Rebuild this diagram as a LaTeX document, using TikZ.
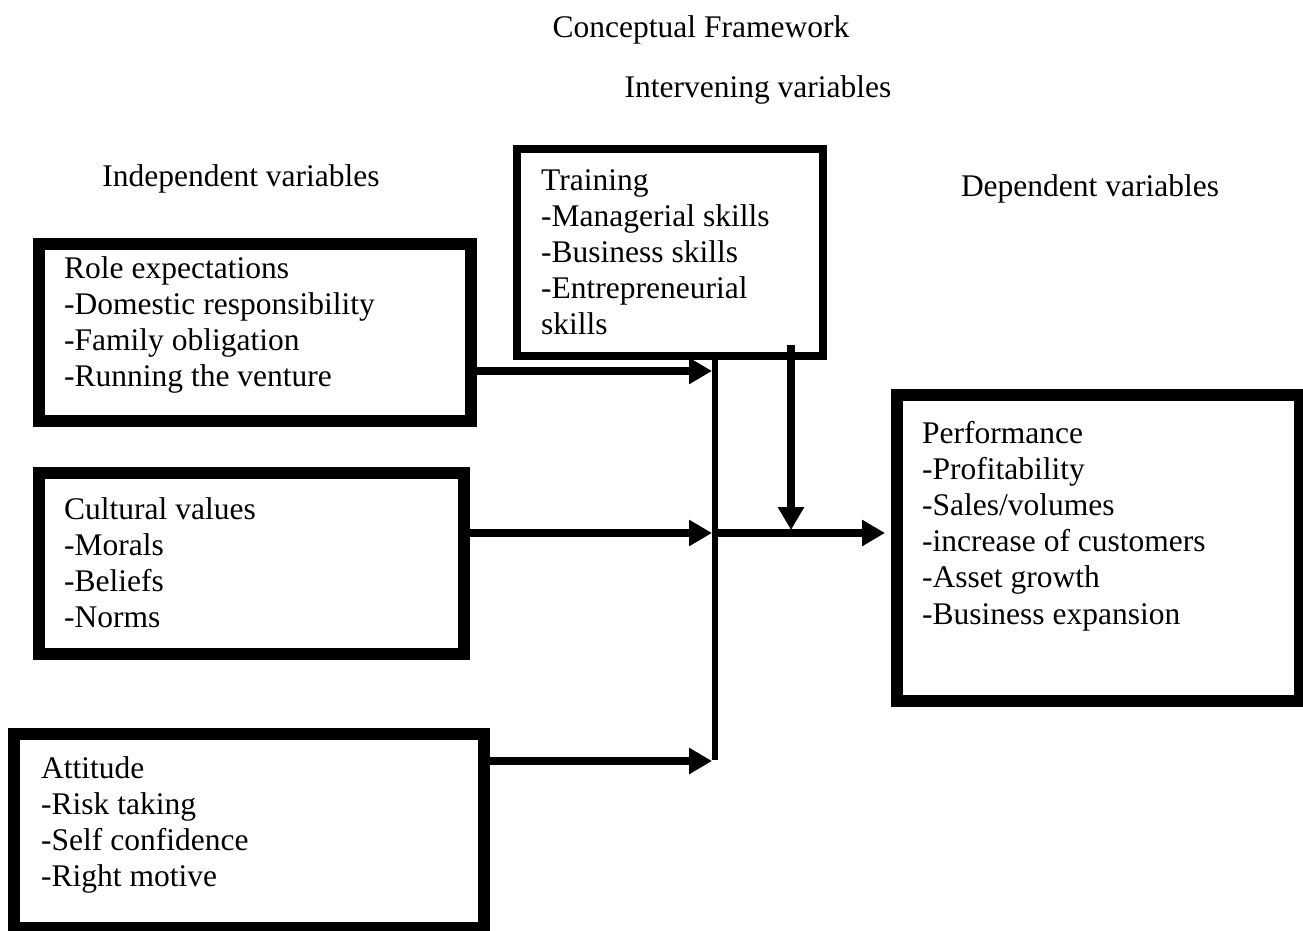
\documentclass[tikz,border=0pt]{standalone}
\usepackage{fontspec}
\setmainfont{Liberation Serif}
\usetikzlibrary{arrows.meta}

\newcommand{\varlines}[1]{\begin{tabular}[t]{@{}l@{}}#1\end{tabular}}

\begin{document}
\begin{tikzpicture}[x=1pt,y=-1pt,
		varbox/.style={draw,line width=12pt,inner sep=0pt},
		trainbox/.style={draw,line width=8pt,inner sep=0pt},
		vtext/.style={anchor=base west,inner sep=0pt,font=\fontsize{31.5}{36.2}\selectfont},
		head/.style={anchor=base,inner sep=0pt,font=\fontsize{31.5}{36.2}\selectfont},
		flow/.style={line width=8pt,-{Triangle[length=23pt,width=25pt]}}]
				\useasboundingbox (0,0) rectangle (1303,931);
				% headings
				\node[head] (title) at (701,38) {Conceptual Framework};
				\node[head] (intervening) at (758,98) {Intervening variables};
				\node[head] (independent) at (241,186) {Independent variables};
				\node[head] (dependent) at (1090,196) {Dependent variables};
				% boxes
				\node[varbox,minimum width=432pt,minimum height=177pt] (role) at (255,332.5) {};
				\node[varbox,minimum width=425pt,minimum height=181pt] (culture) at (251.5,563.5) {};
				\node[varbox,minimum width=470pt,minimum height=194pt] (attitude) at (249,831) {};
				\node[trainbox,minimum width=306pt,minimum height=207pt] (training) at (670,252.5) {};
				\node[varbox,minimum width=403pt,minimum height=306pt] (perf) at (1098.5,548) {};
				\node[vtext] (roletext) at (64,278) {\varlines{Role expectations\\-Domestic responsibility\\-Family obligation\\-Running the venture}};
				\node[vtext] (culturetext) at (64,519) {\varlines{Cultural values\\-Morals\\-Beliefs\\-Norms}};
				\node[vtext] (attitudetext) at (41,778) {\varlines{Attitude\\-Risk taking\\-Self confidence\\-Right motive}};
				\node[vtext] (trainingtext) at (541,190) {\varlines{Training\\-Managerial skills\\-Business skills\\-Entrepreneurial\\skills}};
				\node[vtext] (perftext) at (922,443) {\varlines{Performance\\-Profitability\\-Sales/volumes\\-increase of customers\\-Asset growth\\-Business expansion}};
				% connectors
				\coordinate (bartop) at (715,356);
				\coordinate (barbot) at (715,760);
				\coordinate (j1) at (712,371);
				\coordinate (j2) at (712,533);
				\coordinate (j3) at (712,761);
				\coordinate (hub) at (715,533);
				\coordinate (drop) at (791,345);
				\draw[line width=6pt] (bartop) -- (barbot);
				\draw[flow] (role.east |- j1) -- (j1);
				\draw[flow] (culture.east |- j2) -- (j2);
				\draw[flow] (attitude.east |- j3) -- (j3);
				\draw[flow,shorten >=6pt] (hub) -- (perf.west |- hub);
				\draw[flow,shorten >=3pt] (drop) -- (drop |- hub);
			\end{tikzpicture}
\end{document}
